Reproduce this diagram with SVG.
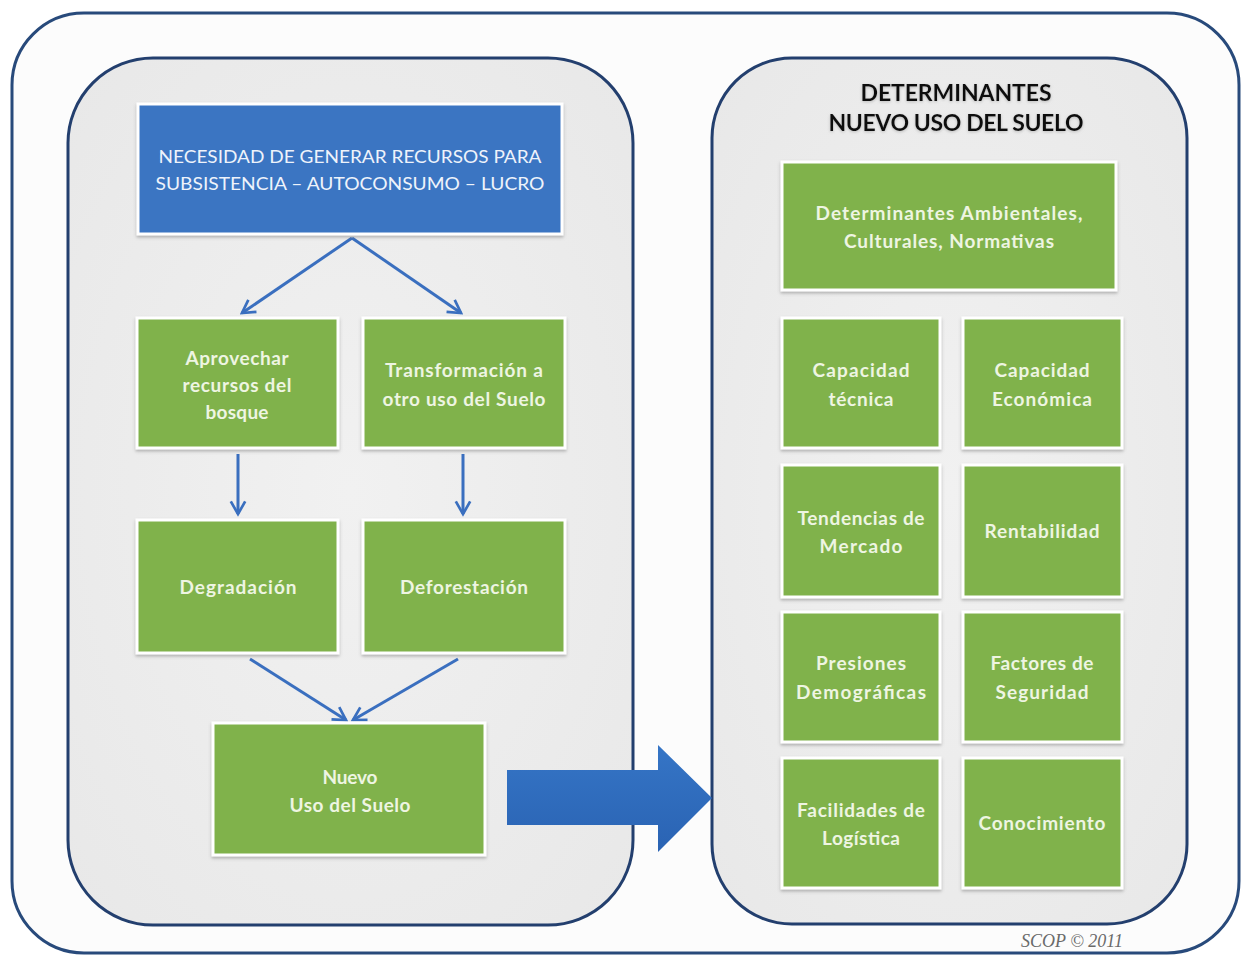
<svg xmlns="http://www.w3.org/2000/svg" width="1244" height="956" viewBox="0 0 1244 956">
<defs>
<style>
.frame{fill:#fcfcfc;stroke:#284a7b;stroke-width:3}
.panel{fill:url(#pg);stroke:#233f6e;stroke-width:3}
.green{fill:#80b24c;stroke:#ffffff;stroke-width:3;filter:url(#sh)}
.blue{fill:#3b74c2;stroke:#ffffff;stroke-width:3;filter:url(#sh)}
.gt{font-family:Lato,"Liberation Sans",sans-serif;font-weight:bold;font-size:19px;fill:#eef5e2;text-anchor:middle}
.bt{font-family:Lato,"Liberation Sans",sans-serif;font-size:17px;fill:#eef3fb;text-anchor:middle}
.tt{font-family:Lato,"Liberation Sans",sans-serif;font-weight:bold;font-size:23px;fill:#111111;text-anchor:middle}
.conn{stroke:#3a6fbf;stroke-width:3;fill:none;marker-end:url(#ah)}
</style>
<radialGradient id="pg" cx="50%" cy="50%" r="70%">
<stop offset="0" stop-color="#f1f1f1"/>
<stop offset="1" stop-color="#e8e8e8"/>
</radialGradient>
<linearGradient id="bag" x1="0" y1="0" x2="0" y2="1">
<stop offset="0" stop-color="#3575c6"/>
<stop offset="1" stop-color="#2a63b3"/>
</linearGradient>
<filter id="sh" x="-10%" y="-10%" width="120%" height="130%">
<feDropShadow dx="0" dy="2" stdDeviation="1.5" flood-color="#777777" flood-opacity="0.5"/>
</filter>
<filter id="glow" x="-10%" y="-30%" width="120%" height="160%">
<feDropShadow dx="0" dy="1" stdDeviation="1.5" flood-color="#999999" flood-opacity="0.6"/>
</filter>
<marker id="ah" viewBox="0 0 10 10" refX="8.5" refY="5" markerWidth="6" markerHeight="6" orient="auto" markerUnits="strokeWidth">
<path d="M1.5,1 L8.5,5 L1.5,9" fill="none" stroke="#3a6fbf" stroke-width="1.5" stroke-linejoin="miter"/>
</marker>
</defs>

<rect class="frame" x="12" y="13" width="1227" height="940" rx="72"/>

<g id="panel-left"><rect class="panel" x="68" y="58" width="565" height="867" rx="85"/></g>
<g id="panel-right"><rect class="panel" x="712" y="58" width="475" height="866" rx="80"/></g>

<g id="connectors">
<line class="conn" x1="352" y1="238" x2="242" y2="313"/>
<line class="conn" x1="352" y1="238" x2="461" y2="313"/>
<line class="conn" x1="238" y1="454" x2="238" y2="514"/>
<line class="conn" x1="463" y1="454" x2="463" y2="514"/>
<line class="conn" x1="250" y1="659" x2="346" y2="720"/>
<line class="conn" x1="458" y1="659" x2="353" y2="720"/>
<polygon points="507,770 658,770 658,745 712,798 658,852 658,825 507,825" fill="url(#bag)"/>
</g>

<g id="n-necesidad">
<rect class="blue" x="138" y="104" width="424" height="130"/>
<text class="bt" x="350" y="163" textLength="383" lengthAdjust="spacingAndGlyphs">NECESIDAD DE GENERAR RECURSOS PARA</text>
<text class="bt" x="350" y="190" textLength="389" lengthAdjust="spacingAndGlyphs">SUBSISTENCIA – AUTOCONSUMO – LUCRO</text>
</g>

<g id="n-aprovechar">
<rect class="green" x="137" y="318" width="201" height="130"/>
<text class="gt" x="237" y="365" textLength="103">Aprovechar</text>
<text class="gt" x="237" y="392" textLength="109">recursos del</text>
<text class="gt" x="237" y="419" textLength="63">bosque</text>
</g>

<g id="n-transformacion">
<rect class="green" x="363" y="318" width="202" height="130"/>
<text class="gt" x="464" y="377" textLength="158">Transformación a</text>
<text class="gt" x="464" y="406" textLength="163">otro uso del Suelo</text>
</g>

<g id="n-degradacion">
<rect class="green" x="137" y="520" width="201" height="133"/>
<text class="gt" x="238" y="594" textLength="117">Degradación</text>
</g>

<g id="n-deforestacion">
<rect class="green" x="363" y="520" width="202" height="133"/>
<text class="gt" x="464" y="594" textLength="128">Deforestación</text>
</g>

<g id="n-nuevo">
<rect class="green" x="213" y="723" width="272" height="132"/>
<text class="gt" x="350" y="784" textLength="55">Nuevo</text>
<text class="gt" x="350" y="812" textLength="121">Uso del Suelo</text>
</g>

<g id="n-title">
<text class="tt" x="956" y="101" textLength="191" filter="url(#glow)">DETERMINANTES</text>
<text class="tt" x="956" y="131" textLength="255" filter="url(#glow)">NUEVO USO DEL SUELO</text>
</g>

<g id="n-ambientales">
<rect class="green" x="782" y="162" width="334" height="128"/>
<text class="gt" x="949" y="220" textLength="267">Determinantes Ambientales,</text>
<text class="gt" x="949" y="248" textLength="210">Culturales, Normativas</text>
</g>

<g id="n-cap-tecnica">
<rect class="green" x="782" y="318" width="158" height="130"/>
<text class="gt" x="861" y="377" textLength="97">Capacidad</text>
<text class="gt" x="861" y="406" textLength="65">técnica</text>
</g>
<g id="n-cap-economica">
<rect class="green" x="963" y="318" width="159" height="130"/>
<text class="gt" x="1042" y="377" textLength="95">Capacidad</text>
<text class="gt" x="1042" y="406" textLength="100">Económica</text>
</g>

<g id="n-tendencias">
<rect class="green" x="782" y="465" width="158" height="132"/>
<text class="gt" x="861" y="525" textLength="127">Tendencias de</text>
<text class="gt" x="861" y="553" textLength="83">Mercado</text>
</g>
<g id="n-rentabilidad">
<rect class="green" x="963" y="465" width="159" height="132"/>
<text class="gt" x="1042" y="538" textLength="115">Rentabilidad</text>
</g>

<g id="n-presiones">
<rect class="green" x="782" y="612" width="158" height="130"/>
<text class="gt" x="861" y="670" textLength="90">Presiones</text>
<text class="gt" x="861" y="699" textLength="130">Demográficas</text>
</g>
<g id="n-factores">
<rect class="green" x="963" y="612" width="159" height="130"/>
<text class="gt" x="1042" y="670" textLength="103">Factores de</text>
<text class="gt" x="1042" y="699" textLength="93">Seguridad</text>
</g>

<g id="n-facilidades">
<rect class="green" x="782" y="758" width="158" height="130"/>
<text class="gt" x="861" y="817" textLength="128">Facilidades de</text>
<text class="gt" x="861" y="845" textLength="78">Logística</text>
</g>
<g id="n-conocimiento">
<rect class="green" x="963" y="758" width="159" height="130"/>
<text class="gt" x="1042" y="830" textLength="127">Conocimiento</text>
</g>

<text x="1072" y="947" font-family="'Liberation Serif',serif" font-style="italic" font-size="18" fill="#6a6a6a" text-anchor="middle">SCOP © 2011</text>
</svg>
